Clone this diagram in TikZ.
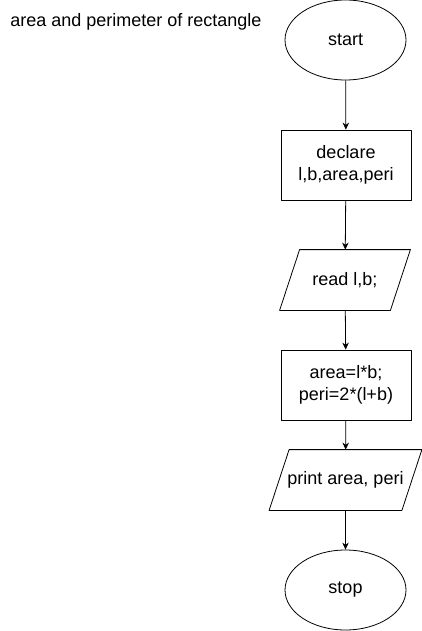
\documentclass[tikz,border=0pt]{standalone}
\usepackage{fontspec}
\setmainfont{Liberation Sans}
\usetikzlibrary{shapes.geometric,arrows.meta}
\begin{document}
\begin{tikzpicture}[x=1pt,y=-1pt,>={Stealth[length=7pt,width=6.5pt]},line join=round,line width=0.8pt,font=\fontsize{18}{22}\selectfont,
	term/.style={draw,ellipse,minimum width=121pt,minimum height=80pt,inner sep=0pt},
	proc/.style={draw,rectangle,minimum width=130pt,minimum height=70pt,align=center},
	io/.style={rectangle,minimum height=60pt,align=center,inner sep=0pt}]
	\useasboundingbox (0,0) rectangle (421,631);
	\node[anchor=base west,inner sep=0pt] (title) at (10,26.5) {area and perimeter of rectangle};
	\node[term] (start) at (345.5,40) {start};
	\node[proc] (decl) at (346,165) {declare\\l,b,area,peri};
	\node[io,minimum width=110pt] (read) at (345,280) {read l,b;};
	\node[proc] (calc) at (346,385) {area=l*b;\\peri=2*(l+b)};
	\node[io,minimum width=132pt] (print) at (345.5,480) {print area, peri};
	\node[term] (stop) at (345.5,590) {stop};
	% parallelograms round the io nodes
	\foreach \n in {read,print}
		\draw ([xshift=-10pt]\n.south west) -- ([xshift=10pt]\n.north west) -- ([xshift=10pt]\n.north east) -- ([xshift=-10pt]\n.south east) -- cycle;
	\draw[->] (start) -- (decl);
	\draw[->] (decl) -- (read);
	\draw[->] (read) -- (calc);
	\draw[->] (calc) -- (print);
	\draw[->] (print) -- (stop);
\end{tikzpicture}
\end{document}
